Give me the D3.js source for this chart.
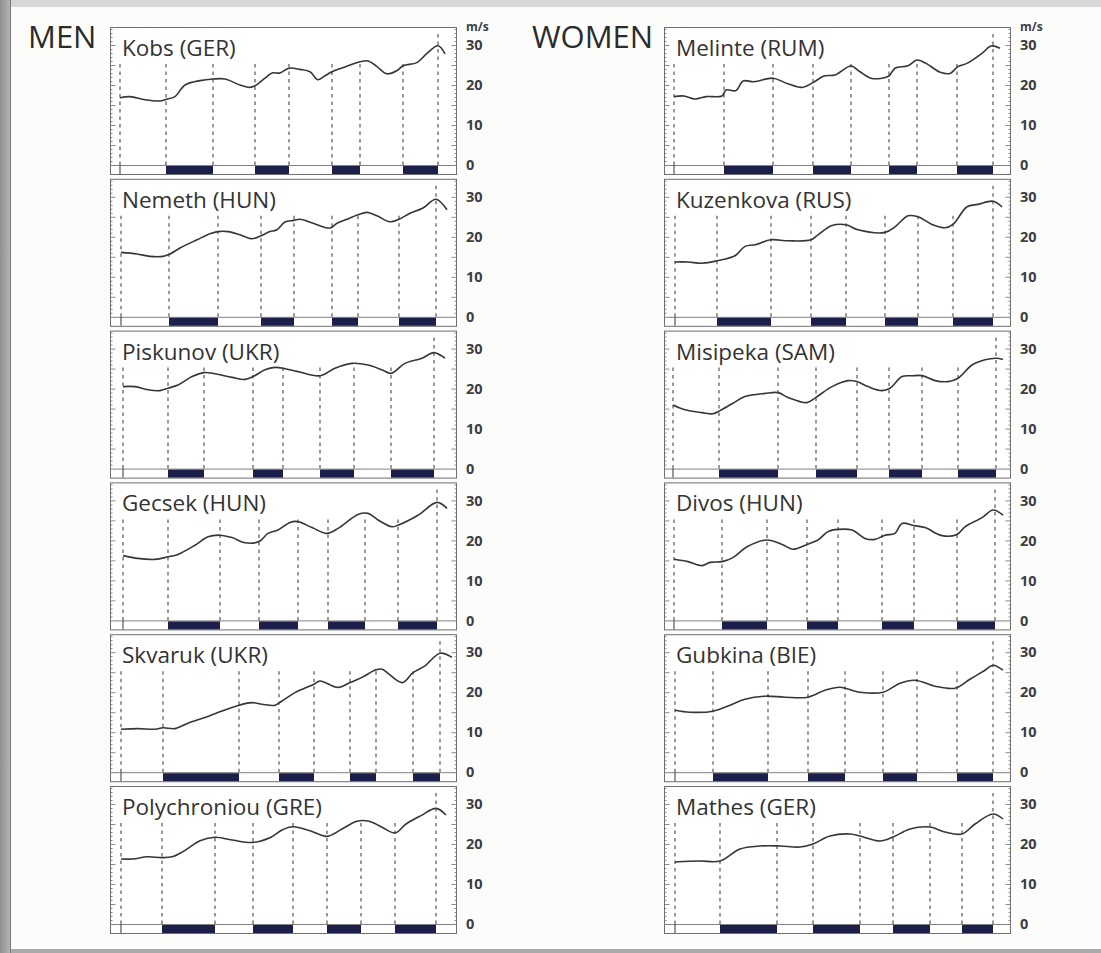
<!DOCTYPE html>
<html>
<head>
<meta charset="utf-8">
<script src="https://cdn.jsdelivr.net/npm/d3@7"></script>
<style>
html, body { margin: 0; padding: 0; background: #fcfcfa; overflow: hidden; }
svg { display: block; }
</style>
</head>
<body>
<svg id="chart" width="1101" height="953"></svg>
<script>
// time in 1/100 s from the left edge of each panel, speed in m/s
const groupTitles = ["MEN", "WOMEN"];
const menNames = ["Kobs (GER)", "Nemeth (HUN)", "Piskunov (UKR)", "Gecsek (HUN)", "Skvaruk (UKR)", "Polychroniou (GRE)"];
const womenNames = ["Melinte (RUM)", "Kuzenkova (RUS)", "Misipeka (SAM)", "Divos (HUN)", "Gubkina (BIE)", "Mathes (GER)"];
const speedTicks = [0, 10, 20, 30];
const speedUnit = "m/s";

// phase boundaries: start, then 4 double-support phases (begin/end), last = release
const kobsPhases = [10, 56, 103, 145, 179, 222, 250, 293, 328];
const nemethPhases = [11, 59, 108, 151, 184, 222, 248, 289, 326];
const piskunovPhases = [13, 58, 94, 143, 173, 210, 244, 281, 324];
const gecsekPhases = [13, 58, 110, 149, 188, 218, 255, 288, 327];
const skvarukPhases = [11, 53, 129, 169, 204, 240, 266, 303, 330];
const polychroniouPhases = [11, 52, 105, 143, 183, 217, 251, 285, 326];
const melintePhases = [10, 60, 109, 149, 187, 225, 253, 293, 329];
const kuzenkovaPhases = [11, 53, 107, 147, 182, 221, 254, 289, 329];
const misipekaPhases = [9, 55, 114, 152, 193, 225, 258, 294, 332];
const divosPhases = [10, 58, 103, 143, 174, 218, 250, 293, 331];
const gubkinaPhases = [11, 49, 104, 144, 181, 219, 253, 293, 329];
const mathesPhases = [11, 56, 113, 149, 196, 229, 266, 298, 329];

const kobsSpeed = [[10,16.8],[20,17.1],[35,16.3],[50,16.0],[56,16.4],[65,17.1],[75,20.0],[90,21.1],[103,21.5],[115,21.5],[130,20.0],[140,19.4],[145,19.8],[155,21.7],[162,23.0],[170,23.0],[179,24.2],[190,23.9],[200,23.3],[208,21.3],[215,22.3],[222,23.3],[235,24.5],[250,25.8],[258,26.0],[267,24.6],[277,22.8],[287,23.6],[293,24.8],[307,25.6],[317,27.9],[328,29.8],[335,27.8]];
const nemethSpeed = [[11,16.1],[27,15.7],[40,15.1],[53,15.1],[60,15.7],[70,17.2],[87,19.25],[100,20.75],[108,21.3],[118,21.3],[130,20.5],[142,19.5],[151,20.25],[160,21.3],[167,21.75],[175,23.7],[184,24.1],[190,24.4],[203,23.4],[220,22.2],[227,23.4],[237,24.4],[248,25.5],[257,26.1],[267,25.25],[280,23.75],[289,24.4],[300,25.9],[313,27.2],[326,29.4],[337,26.75]];
const piskunovSpeed = [[13,20.5],[25,20.5],[38,19.7],[50,19.5],[58,20.1],[68,20.9],[82,23],[94,24],[105,23.7],[122,22.8],[135,22.3],[143,23],[155,24.7],[165,25.3],[173,25.1],[188,24.25],[210,23.2],[225,25.1],[242,26.3],[258,25.9],[272,24.7],[281,23.8],[295,26.3],[312,27.6],[324,29],[335,27.6]];
const gecsekSpeed = [[13,16.2],[28,15.5],[45,15.25],[58,15.9],[68,16.5],[85,18.8],[98,20.9],[110,21.3],[122,20.7],[135,19.4],[149,19.7],[158,21.75],[168,22.6],[180,24.5],[188,24.7],[202,23.2],[217,21.75],[228,23],[248,26.5],[258,26.75],[268,25.1],[282,23.4],[288,23.8],[308,26.3],[327,29.5],[337,28]];
const skvarukSpeed = [[11,10.75],[28,10.9],[45,10.75],[53,11.1],[65,10.9],[78,12.25],[95,13.7],[112,15.3],[129,16.75],[142,17.4],[152,17],[165,16.75],[172,17.8],[185,19.9],[204,22],[210,22.8],[228,21.2],[240,22.4],[252,23.7],[266,25.6],[272,25.75],[292,22.4],[303,24.9],[315,26.6],[330,29.75],[342,28.7]];
const polychroniouSpeed = [[11,16.25],[23,16.25],[37,16.8],[52,16.6],[62,16.8],[73,18.1],[90,20.8],[105,21.7],[122,21],[143,20.4],[161,21.7],[172,23.5],[183,24.3],[200,23.3],[217,21.9],[232,23.75],[247,25.7],[259,25.7],[272,24.2],[285,22.75],[296,25],[311,27.1],[326,28.9],[336,27.25]];
const melinteSpeed = [[10,17.1],[20,17.25],[31,16.5],[42,17.1],[58,17.25],[62,18.75],[72,18.6],[79,21],[90,20.8],[109,21.7],[123,20.4],[138,19.4],[149,20.6],[160,22.25],[171,22.5],[187,24.75],[196,23.3],[207,21.7],[218,21.7],[225,22.25],[231,24.2],[244,24.8],[253,26.25],[262,25.4],[277,23.1],[286,22.9],[294,24.6],[303,25.4],[318,27.9],[327,29.75],[336,29.2]];
const kuzenkovaSpeed = [[11,13.7],[24,13.7],[38,13.4],[53,14],[71,15.25],[81,17.6],[91,18],[107,19.25],[124,19],[147,19.25],[154,20.5],[168,22.8],[182,23],[194,21.75],[221,21.1],[231,22.5],[244,25.25],[254,25],[268,23.1],[281,22.25],[289,23.1],[303,27.5],[314,28.1],[329,28.9],[338,27.5]];
const misipekaSpeed = [[9,15.9],[21,14.7],[38,14],[49,13.7],[56,14.5],[68,16.2],[81,18],[101,18.8],[114,19],[124,17.8],[143,16.5],[152,17.8],[168,20.5],[184,22],[193,21.75],[204,20.5],[218,19.5],[226,20.1],[238,23],[248,23.2],[258,23.25],[271,22],[284,21.75],[294,22.6],[308,25.9],[321,27.2],[332,27.6],[339,27.3]];
const divosSpeed = [[10,15.3],[24,14.7],[38,13.7],[46,14.5],[58,14.7],[69,15.7],[83,18.4],[103,20.1],[118,19],[129,17.8],[143,19],[154,20.1],[164,22.2],[174,22.75],[188,22.6],[201,20.5],[211,20.25],[221,21.3],[231,21.75],[238,24.25],[250,23.7],[261,23.2],[278,21.2],[293,21.5],[301,23.4],[318,25.7],[329,27.6],[339,26.3]];
const gubkinaSpeed = [[11,15.5],[26,15],[49,15.25],[66,16.75],[81,18.25],[101,19],[121,18.75],[144,18.75],[161,20.5],[176,21.25],[196,20],[219,20],[236,22.25],[251,23],[271,21.5],[291,21],[306,23.25],[321,25.5],[329,26.75],[339,25.5]];
const mathesSpeed = [[11,15.5],[36,15.75],[56,15.75],[76,18.75],[96,19.5],[116,19.5],[136,19.25],[149,20],[166,22],[186,22.5],[196,22],[216,20.75],[229,21.75],[246,23.75],[266,24.25],[281,23],[298,22.5],[311,25],[329,27.5],[339,26.25]];

const menPhases = [kobsPhases, nemethPhases, piskunovPhases, gecsekPhases, skvarukPhases, polychroniouPhases];
const menSpeed = [kobsSpeed, nemethSpeed, piskunovSpeed, gecsekSpeed, skvarukSpeed, polychroniouSpeed];
const womenPhases = [melintePhases, kuzenkovaPhases, misipekaPhases, divosPhases, gubkinaPhases, mathesPhases];
const womenSpeed = [melinteSpeed, kuzenkovaSpeed, misipekaSpeed, divosSpeed, gubkinaSpeed, mathesSpeed];

// layout
const width = 1101, height = 953;
const colLeft = [110, 664];
const boxW = 346, boxH = 147, strip = 9;
const zeroFirst = 165, rowStep = 151.8;
const ink = "#363636", frame = "#6f6f6f", navy = "#1d1f4b";
const font = "'Open Sans', 'Noto Sans', sans-serif";

const svg = d3.select("#chart");

// scanned page frame
const grad = svg.append("defs").append("linearGradient").attr("id", "edge");
grad.append("stop").attr("offset", "0%").attr("stop-color", "#8e8e8e");
grad.append("stop").attr("offset", "100%").attr("stop-color", "#b4b4b4");
svg.append("rect").attr("width", width).attr("height", height).attr("fill", "#fcfcfa");
svg.append("rect").attr("width", width).attr("height", 7).attr("fill", "#d8d8d8");
svg.append("rect").attr("y", 949).attr("width", width).attr("height", 4).attr("fill", "#a9a9a9");
svg.append("rect").attr("width", 10).attr("height", height).attr("fill", "url(#edge)");
svg.append("line").attr("x1", 10.5).attr("x2", 10.5).attr("y1", 0).attr("y2", height)
  .attr("stroke", "#7a7a7a").attr("stroke-width", 1);

let x = d3.scaleLinear().domain([0, boxW]).range([0, boxW]);
let y = d3.scaleLinear().domain([0, 30]).range([boxH - strip, boxH - strip - 120]);

let line = d3.line()
  .x(d => x(d[0]))
  .y(d => y(d[1]))
  .curve(d3.curveCatmullRom.alpha(0.5));

let yAxis = d3.axisRight(y)
  .tickValues(speedTicks)
  .tickSize(0)
  .tickPadding(10);

const groups = [
  {title: groupTitles[0], names: menNames, phases: menPhases, speed: menSpeed, titleX: 28},
  {title: groupTitles[1], names: womenNames, phases: womenPhases, speed: womenSpeed, titleX: 532}
];

groups.forEach((grp, c) => {
  svg.append("text")
    .attr("x", grp.titleX).attr("y", 48)
    .attr("font-family", font).attr("font-size", 31)
    .attr("fill", "#2b2b2b")
    .text(grp.title);

  grp.names.forEach((name, r) => {
    const zero = zeroFirst + r * rowStep;
    const g = svg.append("g")
      .attr("transform", "translate(" + colLeft[c] + "," + (zero - (boxH - strip)) + ")");
    const phases = grp.phases[r];

    g.append("rect")
      .attr("x", 0.5).attr("y", 0.5)
      .attr("width", boxW).attr("height", boxH)
      .attr("fill", "#ffffff").attr("stroke", frame).attr("stroke-width", 1);

    // ruler ticks on both inner edges
    d3.range(1, 35).forEach(v => {
      const len = v % 5 === 0 ? 5 : 2;
      const yy = Math.round(y(v)) + 0.5;
      g.append("line").attr("x1", 0.5).attr("x2", 0.5 + len).attr("y1", yy).attr("y2", yy)
        .attr("stroke", frame).attr("stroke-width", 0.8);
      g.append("line").attr("x1", boxW + 0.5 - len).attr("x2", boxW + 0.5).attr("y1", yy).attr("y2", yy)
        .attr("stroke", frame).attr("stroke-width", 0.8);
    });

    // baseline of the phase strip
    g.append("line")
      .attr("x1", 0.5).attr("x2", boxW + 0.5)
      .attr("y1", y(0) + 0.5).attr("y2", y(0) + 0.5)
      .attr("stroke", "#808080").attr("stroke-width", 1);

    // double-support bars
    const pairs = d3.range(4).map(k => [phases[2 * k + 1], phases[2 * k + 2]]);
    g.selectAll(".bar").data(pairs).enter().append("rect")
      .attr("class", "bar")
      .attr("x", d => x(d[0]))
      .attr("y", y(0) + 1)
      .attr("width", d => x(d[1]) - x(d[0]))
      .attr("height", strip - 1)
      .attr("fill", navy);

    g.append("line")
      .attr("x1", x(phases[0])).attr("x2", x(phases[0]))
      .attr("y1", y(0)).attr("y2", boxH)
      .attr("stroke", "#555").attr("stroke-width", 1.2);

    // phase boundaries
    g.selectAll(".phase").data(phases).enter().append("line")
      .attr("class", "phase")
      .attr("x1", d => x(d)).attr("x2", d => x(d))
      .attr("y1", y(0))
      .attr("y2", (d, i) => i === phases.length - 1 ? y(33.5) : y(26))
      .attr("stroke", "#555").attr("stroke-width", 1.2)
      .attr("stroke-dasharray", "3.5,4");

    // speed curve
    g.append("path")
      .datum(grp.speed[r])
      .attr("d", line)
      .attr("fill", "none")
      .attr("stroke", ink)
      .attr("stroke-width", 1.6)
      .attr("stroke-linejoin", "round");

    g.append("text")
      .attr("x", 12).attr("y", y(0) - 109)
      .attr("font-family", font).attr("font-size", 22.5)
      .attr("fill", "#333")
      .text(name);

    const ax = g.append("g")
      .attr("transform", "translate(" + boxW + ",0)")
      .call(yAxis);
    ax.select(".domain").remove();
    ax.selectAll("text")
      .attr("font-family", font).attr("font-size", 14.5)
      .attr("font-weight", 700).attr("fill", "#3c3c46");

    if (r === 0) {
      g.append("text")
        .attr("x", boxW + 10).attr("y", 4)
        .attr("font-family", font).attr("font-size", 12)
        .attr("font-weight", 700).attr("fill", "#3c3c46")
        .text(speedUnit);
    }
  });
});
</script>
</body>
</html>
